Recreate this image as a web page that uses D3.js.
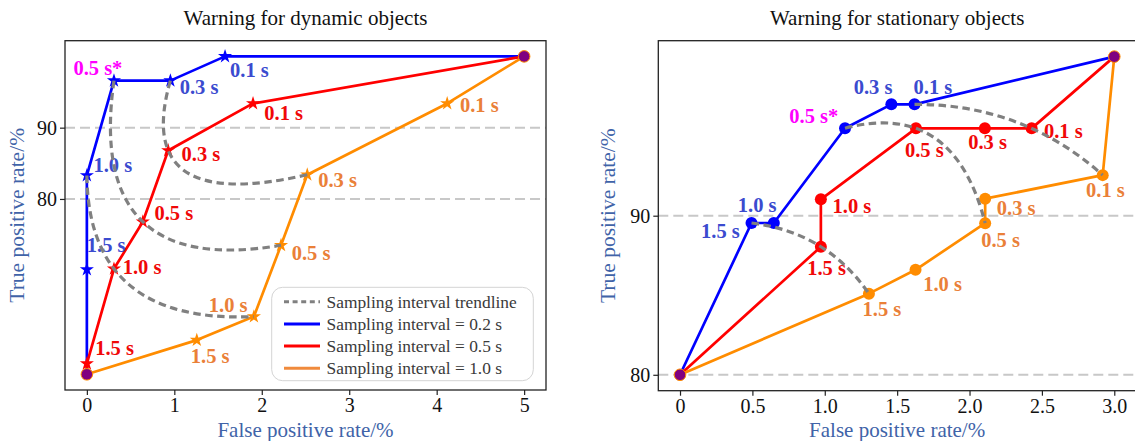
<!DOCTYPE html>
<html><head><meta charset="utf-8">
<script src="https://cdn.jsdelivr.net/npm/d3@7"></script>
<style>body{margin:0;background:#fff}svg{display:block}</style>
</head><body>
<svg id="c" width="1135" height="441"></svg>
<script>
// ---------------- DATA ----------------
// Point order along every curve: start, 1.5 s, 1.0 s, 0.5 s, 0.3 s, 0.1 s, end
const stepTimes = [null, "1.5", "1.0", "0.5", "0.3", "0.1", null];
const seriesNames = ["Sampling interval = 0.2 s", "Sampling interval = 0.5 s", "Sampling interval = 1.0 s"];
const trendName = "Sampling interval trendline";

// Warning for dynamic objects
const dynFPR_02 = [0, 0, 0, 0.31, 0.955, 1.58, 5];
const dynTPR_02 = [55.4, 70.1, 83.3, 96.6, 96.6, 100, 100];
const dynFPR_05 = [0, 0, 0.31, 0.64, 0.93, 1.90, 5];
const dynTPR_05 = [55.4, 56.9, 70.2, 76.8, 86.8, 93.4, 100];
const dynFPR_10 = [0, 1.257, 1.91, 2.22, 2.52, 4.12, 5];
const dynTPR_10 = [55.4, 60.2, 63.5, 73.5, 83.4, 93.4, 100];
const dynTrendTimes = ["0.5", "0.3", "1.0"];
const dynXTicks = [0, 1, 2, 3, 4, 5];
const dynYTicks = [80, 90];

// Warning for stationary objects
const staFPR_02 = [0, 0.494, 0.648, 1.14, 1.46, 1.62, 3.0];
const staTPR_02 = [80, 89.54, 89.54, 95.5, 97.0, 97.0, 100];
const staFPR_05 = [0, 0.973, 0.973, 1.63, 2.106, 2.429, 3.0];
const staTPR_05 = [80, 88.05, 91.03, 95.49, 95.49, 95.49, 100];
const staFPR_10 = [0, 1.305, 1.627, 2.108, 2.108, 2.92, 3.0];
const staTPR_10 = [80, 85.1, 86.6, 89.53, 91.07, 92.55, 100];
const staTrendTimes = ["0.1", "0.5", "1.5"];
const staXTicks = [0, 0.5, 1.0, 1.5, 2.0, 2.5, 3.0];
const staYTicks = [80, 90];

const optimalTime = "0.5"; // marked with * on the 0.2 s curve

// ---------------- STYLE / LAYOUT ----------------
const FONT = "'Liberation Serif','Times New Roman',serif";
const lineColors = ["#0000ff", "#ff0000", "#ff8c00"];
const labelColors = ["#3b4bcf", "#f00808", "#ea8038"];
const legendColors = ["#0000ff", "#ff0000", "#f08a3c"];
const starColor = "#ff00ff";
const axisLabelColor = "#4063a8";

// label offsets [dx, dy, anchor] per panel / series / time
const labelOffsets = {
  dyn: [
    {"1.5": [0, -17.6, "start"], "1.0": [6.6, -3, "start"], "0.5": [8.4, -5.5, "end"], "0.3": [9.3, 13.3, "start"], "0.1": [5, 21, "start"]},
    {"1.5": [8.3, -8.3, "start"], "1.0": [8.7, 5, "start"], "0.5": [11.6, -1.7, "start"], "0.3": [13.4, 10.7, "start"], "0.1": [11.3, 16.7, "start"]},
    {"1.5": [-6, 22.7, "start"], "1.0": [-6.3, -4.3, "end"], "0.5": [10.7, 14.3, "start"], "0.3": [11, 12.4, "start"], "0.1": [12.7, 8.4, "start"]}
  ],
  sta: [
    {"1.5": [-11.7, 14.6, "end"], "1.0": [2.7, -11, "end"], "0.5": [-6.7, -5.6, "end"], "0.3": [1, -10.7, "end"], "0.1": [-1, -10.7, "start"]},
    {"1.5": [-13.7, 28.3, "start"], "1.0": [11.7, 14, "start"], "0.5": [-11, 29, "start"], "0.3": [-16.7, 21, "start"], "0.1": [12.3, 10, "start"]},
    {"1.5": [-6.3, 22.7, "start"], "1.0": [7.6, 21.7, "start"], "0.5": [-4, 23.4, "start"], "0.3": [11.7, 16.7, "start"], "0.1": [-16.7, 21.7, "start"]}
  ]
};

const svg = d3.select("#c");

function panel(cfg) {
  const g = svg.append("g");
  const x = d3.scaleLinear().domain(cfg.xDomain).range([cfg.left, cfg.right]);
  const y = d3.scaleLinear().domain(cfg.yDomain).range([cfg.bottom, cfg.top]);

  const series = cfg.fpr.map((xs, i) => xs.map((v, j) => ({x: v, y: cfg.tpr[i][j], t: stepTimes[j]})));

  // grid
  g.selectAll("line.grid").data(cfg.yTicks).join("line").attr("class", "grid")
    .attr("x1", cfg.left).attr("x2", cfg.right)
    .attr("y1", d => y(d)).attr("y2", d => y(d))
    .attr("stroke", "#c8c8c8").attr("stroke-width", 2).attr("stroke-dasharray", "10,5");

  // series lines
  const line = d3.line().x(d => x(d.x)).y(d => y(d.y));
  series.forEach((s, i) => {
    g.append("path").attr("d", line(s)).attr("fill", "none")
      .attr("stroke", lineColors[i]).attr("stroke-width", 2.7).attr("stroke-linejoin", "round");
  });

  // markers
  series.forEach((s, i) => {
    const inner = s.filter(d => d.t !== null);
    if (cfg.marker === "star") {
      g.selectAll(null).data(inner).join("path")
        .attr("transform", d => `translate(${x(d.x)},${y(d.y)})`)
        .attr("d", d3.symbol(d3.symbolStar, 62)())
        .attr("fill", lineColors[i]);
    } else {
      g.selectAll(null).data(inner).join("circle")
        .attr("cx", d => x(d.x)).attr("cy", d => y(d.y)).attr("r", 6)
        .attr("fill", lineColors[i]);
    }
  });
  // shared start / end points
  const ends = [series[0][0], series[0][series[0].length - 1]];
  g.selectAll(null).data(ends).join("circle")
    .attr("cx", d => x(d.x)).attr("cy", d => y(d.y)).attr("r", 5.8)
    .attr("fill", "#800080").attr("stroke", "#ff8c00").attr("stroke-width", 1);

  // labels
  series.forEach((s, i) => {
    s.filter(d => d.t !== null).forEach(d => {
      const o = labelOffsets[cfg.key][i][d.t];
      const starred = i === 0 && d.t === optimalTime;
      g.append("text").attr("x", x(d.x) + o[0]).attr("y", y(d.y) + o[1])
        .attr("text-anchor", o[2]).attr("font-family", FONT).attr("font-size", 20.5)
        .attr("font-weight", "bold").attr("fill", starred ? starColor : labelColors[i])
        .text(d.t + " s" + (starred ? "*" : ""));
    });
  });

  // trendlines: quadratic curve through the three same-time points
  cfg.trendTimes.forEach(t => {
    const pts = series.map(s => s.find(d => d.t === t)).map(d => [x(d.x), y(d.y)]);
    const [p0, p1, p2] = pts;
    const l1 = Math.hypot(p1[0] - p0[0], p1[1] - p0[1]);
    const l2 = Math.hypot(p2[0] - p1[0], p2[1] - p1[1]);
    const u = l1 / (l1 + l2);
    const q = [0, 1].map(k => (p1[k] - (1 - u) * (1 - u) * p0[k] - u * u * p2[k]) / (2 * u * (1 - u)));
    const p = d3.path();
    p.moveTo(p0[0], p0[1]);
    p.quadraticCurveTo(q[0], q[1], p2[0], p2[1]);
    g.append("path").attr("d", p.toString()).attr("fill", "none")
      .attr("stroke", "#808080").attr("stroke-width", 3.2).attr("stroke-dasharray", "7.5,4.5");
  });

  // frame
  g.append("rect").attr("x", cfg.left).attr("y", cfg.top)
    .attr("width", cfg.right - cfg.left).attr("height", cfg.bottom - cfg.top)
    .attr("fill", "none").attr("stroke", "#222").attr("stroke-width", 1.3);

  // axes
  const ax = g.append("g").attr("transform", `translate(0,${cfg.bottom})`)
    .call(d3.axisBottom(x).tickValues(cfg.xTicks).tickSize(5).tickPadding(3).tickFormat(cfg.xFmt));
  const ay = g.append("g").attr("transform", `translate(${cfg.left},0)`)
    .call(d3.axisLeft(y).tickValues(cfg.yTicks).tickSize(5).tickPadding(3).tickFormat(d3.format("d")));
  [ax, ay].forEach(a => {
    a.select(".domain").remove();
    a.selectAll(".tick line").attr("stroke", "#222").attr("stroke-width", 1.2);
    a.selectAll(".tick text").attr("font-family", FONT).attr("font-size", 20).attr("fill", "#111");
  });

  // titles
  g.append("text").attr("x", (cfg.left + cfg.right) / 2).attr("y", 25)
    .attr("text-anchor", "middle").attr("font-family", FONT).attr("font-size", 21).attr("fill", "#111")
    .text(cfg.title);
  g.append("text").attr("x", (cfg.left + cfg.right) / 2).attr("y", 436.5)
    .attr("text-anchor", "middle").attr("font-family", FONT).attr("font-size", 21).attr("fill", axisLabelColor)
    .text("False positive rate/%");
  g.append("text").attr("transform", `translate(${cfg.ylabX},${(cfg.top + cfg.bottom) / 2}) rotate(-90)`)
    .attr("text-anchor", "middle").attr("font-family", FONT).attr("font-size", 21.5).attr("fill", axisLabelColor)
    .text("True positive rate/%");
  return g;
}

const left = panel({
  key: "dyn", title: "Warning for dynamic objects",
  fpr: [dynFPR_02, dynFPR_05, dynFPR_10], tpr: [dynTPR_02, dynTPR_05, dynTPR_10],
  trendTimes: dynTrendTimes, xTicks: dynXTicks, yTicks: dynYTicks, xFmt: d3.format("d"),
  xDomain: [-0.25, 5.25], yDomain: [53.2, 102.2],
  left: 65, right: 546, top: 40.7, bottom: 390, marker: "star", ylabX: 24
});

panel({
  key: "sta", title: "Warning for stationary objects",
  fpr: [staFPR_02, staFPR_05, staFPR_10], tpr: [staTPR_02, staTPR_05, staTPR_10],
  trendTimes: staTrendTimes, xTicks: staXTicks, yTicks: staYTicks,
  xFmt: d => d === 0 ? "0" : d3.format(".1f")(d),
  xDomain: [-0.15, 3.15], yDomain: [79, 101],
  left: 658.3, right: 1136, top: 40.7, bottom: 390.7, marker: "circle", ylabX: 615
});

// legend (left panel)
const lg = left.append("g");
lg.append("rect").attr("x", 271.7).attr("y", 287.3).attr("width", 261.6).attr("height", 93.4)
  .attr("rx", 11).attr("fill", "#fff").attr("fill-opacity", 0.85).attr("stroke", "#d4d4d4").attr("stroke-width", 1);
const legendItems = [trendName].concat(seriesNames);
legendItems.forEach((name, i) => {
  const cy = 301.7 + i * 22.2;
  lg.append("line").attr("x1", 284).attr("x2", 320).attr("y1", cy).attr("y2", cy)
    .attr("stroke", i === 0 ? "#808080" : legendColors[i - 1]).attr("stroke-width", 3)
    .attr("stroke-dasharray", i === 0 ? "5,3.6" : null);
  lg.append("text").attr("x", 326.5).attr("y", cy + 6).attr("font-family", FONT)
    .attr("font-size", 17.4).attr("fill", "#3a3a3a").text(name);
});
</script>
</body></html>
